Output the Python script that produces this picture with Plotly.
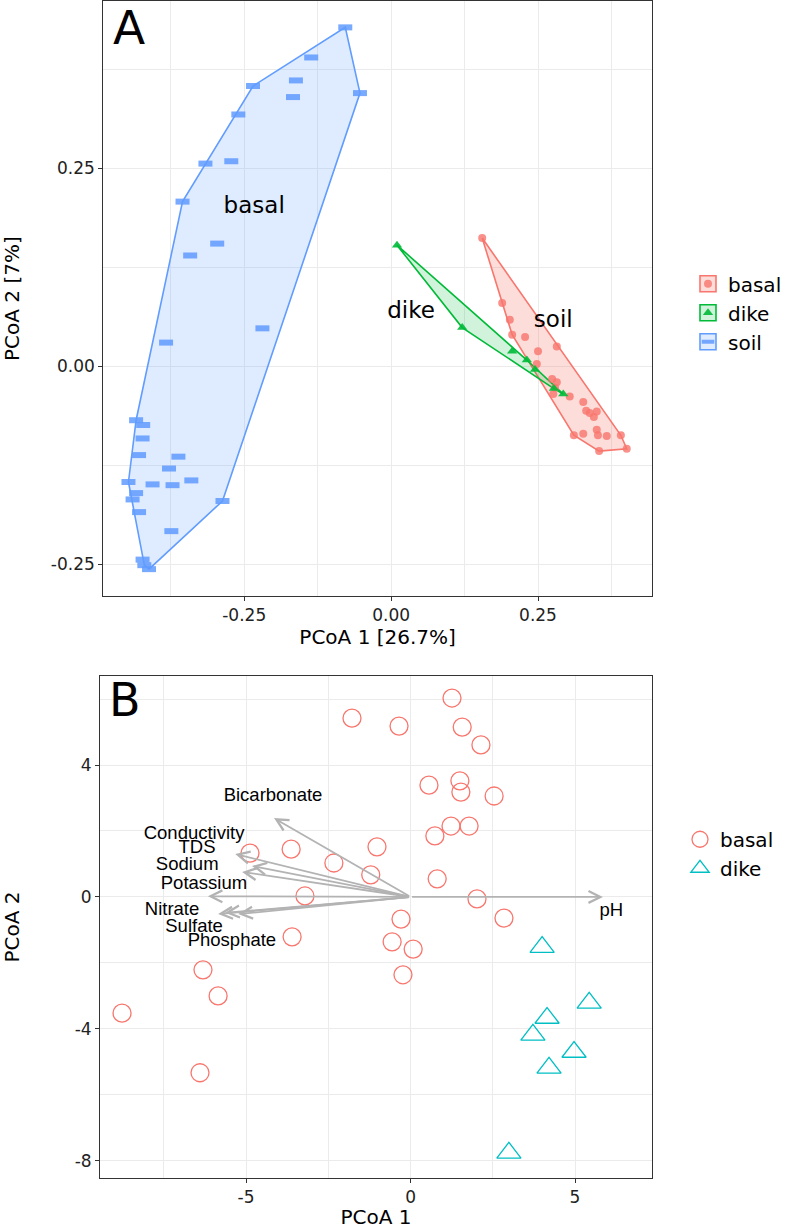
import plotly.graph_objects as go

# ---------------- Panel A data (PCoA) ----------------
a_basal_x = [0.155, 0.189, 0.202, 0.206, 0.228, 0.282, 0.250, 0.248, 0.274, 0.282, 0.279, 0.276,
             0.304, 0.327, 0.332, 0.350, 0.338, 0.345, 0.350, 0.352, 0.367, 0.391, 0.327, 0.311,
             0.354, 0.401]
a_basal_y = [0.162, 0.080, 0.059, 0.040, 0.037, 0.025, 0.019, 0.003, -0.016, -0.020, -0.027, -0.035,
             -0.038, -0.045, -0.056, -0.057, -0.059, -0.064, -0.080, -0.087, -0.088, -0.087, -0.085, -0.087,
             -0.107, -0.104]
a_dike_x = [0.010, 0.121, 0.206, 0.231, 0.245, 0.277, 0.293]
a_dike_y = [0.153, 0.049, 0.019, 0.008, -0.004, -0.028, -0.035]
a_soil_x = [-0.078, -0.136, -0.162, -0.167, -0.235, -0.260, -0.316, -0.272, -0.355, -0.296, -0.342,
            -0.053, -0.219, -0.383, -0.434, -0.422, -0.423, -0.429, -0.362, -0.378, -0.447, -0.406,
            -0.372, -0.340, -0.434, -0.440, -0.429, -0.287, -0.374, -0.423, -0.420, -0.412]
a_soil_y = [0.428, 0.390, 0.361, 0.340, 0.354, 0.318, 0.256, 0.259, 0.208, 0.155, 0.140,
            0.345, 0.048, 0.030, -0.068, -0.074, -0.091, -0.112, -0.114, -0.129, -0.146, -0.149,
            -0.150, -0.144, -0.160, -0.168, -0.184, -0.170, -0.208, -0.244, -0.251, -0.256]
a_text = ["basal", "dike", "soil"]
a_text_x = [-0.233, 0.034, 0.276]
a_text_y = [0.201, 0.068, 0.057]

# ---------------- Panel B data (PCoA + env vectors) ----------------
b_basal_x = [-1.78, -0.35, -4.88, -3.63, -2.33, -1.02, -1.21, -3.21, -3.60, -0.29, -0.56, 0.08,
             -0.23, -6.31, -5.85, -8.77, -6.40, 1.26, 1.57, 2.14, 0.56, 1.50, 1.53, 2.54,
             1.23, 1.78, 0.74, 0.81, 2.02, 2.84]
b_basal_y = [5.42, 5.18, 1.33, 1.45, 1.03, 1.52, 0.67, 0.03, -1.21, -0.67, -1.36, -1.58,
             -2.36, -2.21, -3.00, -3.52, -5.33, 6.03, 5.15, 4.61, 3.39, 3.52, 3.18, 3.06,
             2.15, 2.15, 1.85, 0.55, -0.06, -0.64]
b_dike_x = [4.00, 5.43, 4.15, 3.72, 4.97, 4.21, 2.99]
b_dike_y = [-1.52, -3.21, -3.67, -4.18, -4.70, -5.18, -7.76]

env_names = ["Bicarbonate", "Conductivity", "TDS", "Sodium", "Potassium",
             "Nitrate", "Sulfate", "Phosphate", "pH"]
env_x = [-4.15, -5.33, -4.82, -5.12, -6.16, -5.85, -5.64, -5.24, 5.85]
env_y = [2.39, 1.30, 0.94, 0.76, 0.02, -0.52, -0.48, -0.52, 0.0]
env_lab_x = [-4.18, -6.58, -6.49, -6.79, -6.28, -7.25, -6.58, -5.43, 6.10]
env_lab_y = [3.06, 1.91, 1.48, 0.97, 0.39, -0.42, -0.91, -1.36, -0.45]


def hull(xs, ys):
    pts = sorted(set(zip(xs, ys)))
    if len(pts) < 3:
        return [p[0] for p in pts], [p[1] for p in pts]

    def cross(o, a, b):
        return (a[0] - o[0]) * (b[1] - o[1]) - (a[1] - o[1]) * (b[0] - o[0])

    lower, upper = [], []
    for p in pts:
        while len(lower) >= 2 and cross(lower[-2], lower[-1], p) <= 0:
            lower.pop()
        lower.append(p)
    for p in reversed(pts):
        while len(upper) >= 2 and cross(upper[-2], upper[-1], p) <= 0:
            upper.pop()
        upper.append(p)
    h = lower[:-1] + upper[:-1]
    h.append(h[0])
    return [p[0] for p in h], [p[1] for p in h]


RED, GREEN, BLUE, TEAL = "#F8766D", "#00BA38", "#619CFF", "#00BFC4"
FONT = "DejaVu Sans"

fig = go.Figure()

groups_a = [
    ("basal", a_basal_x, a_basal_y, RED, "rgba(248,118,109,0.25)",
     dict(symbol="circle", size=8, color=RED, opacity=0.8, line=dict(width=0))),
    ("dike", a_dike_x, a_dike_y, GREEN, "rgba(0,186,56,0.18)",
     dict(symbol="triangle-up", size=9, color=GREEN, opacity=0.9, line=dict(width=0))),
    ("soil", a_soil_x, a_soil_y, BLUE, "rgba(97,156,255,0.2)",
     dict(symbol="line-ew", size=10, opacity=0.85, line=dict(width=6, color=BLUE))),
]

for name, xs, ys, col, fcol, mk in groups_a:
    hx, hy = hull(xs, ys)
    fig.add_trace(go.Scatter(
        x=hx, y=hy, mode="lines", fill="toself", fillcolor=fcol,
        line=dict(color=col, width=1.6), name=name, legendgroup=name,
        showlegend=False, xaxis="x", yaxis="y", hoverinfo="skip"))
for name, xs, ys, col, fcol, mk in groups_a:
    fig.add_trace(go.Scatter(
        x=xs, y=ys, mode="markers", marker=mk, name=name, legendgroup=name,
        showlegend=False, xaxis="x", yaxis="y"))
# legend keys: box (fill + outline) and, in an overlaid legend, the point symbol
for name, xs, ys, col, fcol, mk in groups_a:
    fig.add_trace(go.Scatter(
        x=[None], y=[None], mode="markers", name=name, legendgroup=name,
        marker=dict(symbol="square", size=22, color=fcol, line=dict(width=1.6, color=col)),
        legend="legend", xaxis="x", yaxis="y"))
for name, xs, ys, col, fcol, mk in groups_a:
    leg_mk = dict(mk)
    if name == "soil":
        leg_mk = dict(symbol="line-ew", size=9, opacity=0.85, line=dict(width=4, color=BLUE))
    fig.add_trace(go.Scatter(
        x=[None], y=[None], mode="markers", name=" ", legendgroup=name + "_k",
        marker=leg_mk, legend="legend3", xaxis="x", yaxis="y"))

fig.add_trace(go.Scatter(
    x=a_text_x, y=a_text_y, mode="text", text=a_text,
    textfont=dict(family=FONT, size=23, color="black"),
    showlegend=False, xaxis="x", yaxis="y", hoverinfo="skip"))

# Panel B
fig.add_trace(go.Scatter(
    x=b_basal_x, y=b_basal_y, mode="markers", name="basal",
    marker=dict(symbol="circle-open", size=18, color=RED, line=dict(width=1.3, color=RED)),
    legend="legend2", xaxis="x2", yaxis="y2"))
fig.add_trace(go.Scatter(
    x=b_dike_x, y=b_dike_y, mode="markers", name="dike",
    marker=dict(symbol="triangle-up-open", size=21, color=TEAL, line=dict(width=1.3, color=TEAL)),
    legend="legend2", xaxis="x2", yaxis="y2"))
fig.add_trace(go.Scatter(
    x=env_lab_x, y=env_lab_y, mode="text", text=env_names,
    textfont=dict(family="Liberation Sans", size=18.5, color="black"),
    showlegend=False, xaxis="x2", yaxis="y2", hoverinfo="skip"))

annotations = []
for ex, ey in zip(env_x, env_y):
    annotations.append(dict(
        x=ex, y=ey, ax=0, ay=0, xref="x2", yref="y2", axref="x2", ayref="y2",
        text="", showarrow=True, arrowhead=5, arrowsize=1.3, arrowwidth=1.8,
        arrowcolor="#B3B3B3", standoff=0, startstandoff=0))

annotations.append(dict(text="A", xref="x domain", yref="y domain", x=0.014, y=1.005,
                        xanchor="left", yanchor="top", showarrow=False,
                        font=dict(family=FONT, size=47, color="black")))
annotations.append(dict(text="B", xref="x2 domain", yref="y2 domain", x=0.012, y=1.01,
                        xanchor="left", yanchor="top", showarrow=False,
                        font=dict(family=FONT, size=46, color="black")))

GRID = "#EBEBEB"
axis_common = dict(showline=True, mirror=True, linecolor="#333333", linewidth=1,
                   ticks="outside", ticklen=4, tickcolor="#333333", tickwidth=1,
                   showgrid=True, gridcolor=GRID, gridwidth=1.4, zeroline=False,
                   tickfont=dict(family=FONT, size=17, color="#222222"),
                   title_font=dict(family=FONT, size=20, color="black"))

LEG_FONT = dict(family=FONT, size=20, color="black")
fig.update_layout(
    width=800, height=1229, margin=dict(l=0, r=0, t=0, b=0),
    plot_bgcolor="white", paper_bgcolor="white",
    xaxis=dict(domain=[0.129, 0.815], range=[-0.490, 0.444], anchor="y",
               tickvals=[-0.25, 0, 0.25], ticktext=["-0.25", "0.00", "0.25"],
               minor=dict(tickvals=[-0.375, -0.125, 0.125, 0.375], showgrid=True,
                          gridcolor=GRID, gridwidth=0.7, ticks=""),
               title=dict(text="PCoA 1 [26.7%]", standoff=2), **axis_common),
    yaxis=dict(domain=[0.515, 0.999], range=[-0.290, 0.461], anchor="x",
               tickvals=[-0.25, 0, 0.25], ticktext=["-0.25", "0.00", "0.25"],
               minor=dict(tickvals=[-0.125, 0.125, 0.375], showgrid=True,
                          gridcolor=GRID, gridwidth=0.7, ticks=""),
               title=dict(text="PCoA 2 [7%]", standoff=26), **axis_common),
    xaxis2=dict(domain=[0.125, 0.815], range=[-9.44, 7.34], anchor="y2",
                tickvals=[-5, 0, 5], ticktext=["-5", "0", "5"],
                minor=dict(tickvals=[-7.5, -2.5, 2.5], showgrid=True,
                           gridcolor=GRID, gridwidth=0.7, ticks=""),
                title=dict(text="PCoA 1", standoff=9), **axis_common),
    yaxis2=dict(domain=[0.0415, 0.450], range=[-8.52, 6.70], anchor="x2",
                tickvals=[-8, -4, 0, 4], ticktext=["-8", "-4", "0", "4"],
                minor=dict(tickvals=[-6, -2, 2, 6], showgrid=True,
                           gridcolor=GRID, gridwidth=0.7, ticks=""),
                title=dict(text="PCoA 2", standoff=54), **axis_common),
    legend=dict(x=0.86, y=0.785, xanchor="left", yanchor="top", font=LEG_FONT,
                bgcolor="rgba(0,0,0,0)", tracegroupgap=0, itemwidth=30),
    legend3=dict(x=0.86, y=0.785, xanchor="left", yanchor="top", font=LEG_FONT,
                 bgcolor="rgba(0,0,0,0)", tracegroupgap=0, itemwidth=30),
    legend2=dict(x=0.85, y=0.333, xanchor="left", yanchor="top", font=LEG_FONT,
                 bgcolor="rgba(0,0,0,0)", tracegroupgap=0, itemwidth=30),
    annotations=annotations,
)

fig.write_html("out.html", config={"displayModeBar": False},
               post_script="document.body.style.margin='0';")
